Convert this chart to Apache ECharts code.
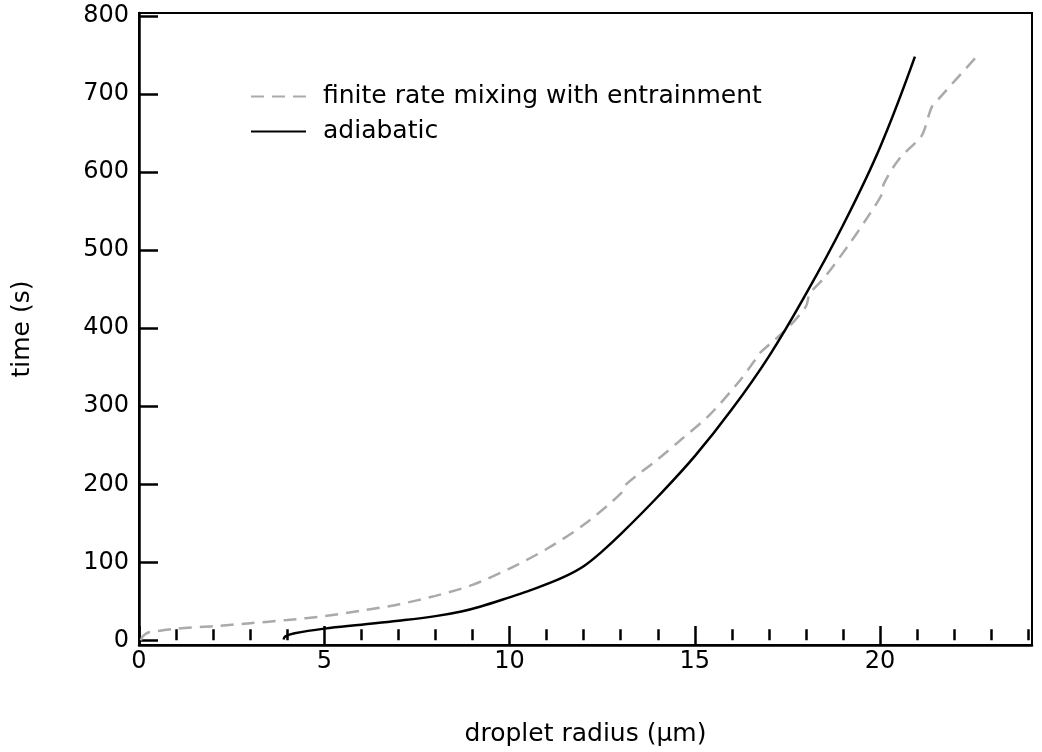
<!DOCTYPE html>
<html>
<head>
<meta charset="utf-8">
<script src="https://cdn.jsdelivr.net/npm/echarts@6/dist/echarts.min.js"></script>
<style>html,body{margin:0;padding:0;background:#fff}#c{width:1042px;height:752px}</style>
</head>
<body>
<div id="c"></div>
<script>
// finite rate mixing with entrainment (droplet radius µm, time s)
const mixR = [0.05, 0.1, 0.25, 0.5, 1, 2, 3, 4, 5, 6, 7, 8, 9, 10, 11, 12, 13, 13.1, 14, 14.6, 15.4, 16.2, 16.65, 16.75, 17.5, 18.0, 18.1, 18.5, 19.2, 19.7, 20.05, 20.1, 20.5, 21.1, 21.2, 21.4, 21.6, 22.6];
const mixT = [0, 5, 10, 12, 15, 18, 22, 26, 31, 38, 46, 57, 71, 92, 117, 148, 188, 198, 232, 256, 289, 332, 361, 368, 400, 428, 444, 465, 510, 545, 572, 585, 616, 645, 655, 684, 695, 748];
// adiabatic
const adiR = [3.9, 3.95, 4.2, 5, 6, 7, 8, 8.7, 9.2, 10, 10.5, 11, 11.5, 12, 12.5, 13, 14, 15, 16, 17, 18, 19, 20, 20.94];
const adiT = [1, 5, 9, 15, 20, 25, 31, 37, 43, 55, 63, 72, 82, 95, 114, 136, 184, 236, 296, 364, 444, 532, 632, 748];
const xMajorTicks = [0, 5, 10, 15, 20];
const xMinorTicks = [1,2,3,4,6,7,8,9,11,12,13,14,16,17,18,19,21,22,23,24];
const yTicks = [0, 100, 200, 300, 400, 500, 600, 700, 800];
const seriesNames = ['finite rate mixing with entrainment', 'adiabatic'];

const FONT = 'DejaVu Sans';
const chart = echarts.init(document.getElementById('c'), null, {renderer: 'canvas'});
const X_MIN = 0, X_MAX = 24.1, Y_MIN = -6, Y_MAX = 804;
chart.setOption({
  animation: false,
  backgroundColor: '#fff',
  grid: {left: 139, right: 10, top: 13, bottom: 103, show: true, borderColor: '#000', borderWidth: 2, backgroundColor: 'transparent'},
  legend: {
    orient: 'vertical', left: 250, top: 84, padding: 0, itemWidth: 55, itemHeight: 14, itemGap: 10,
    data: seriesNames,
    itemStyle: {opacity: 0, color: 'rgba(0,0,0,0)', borderWidth: 0},
    textStyle: {fontFamily: FONT, fontSize: 25, color: '#000', padding: [0, 0, 0, 12]}
  },
  xAxis: [{
    type: 'value', min: X_MIN, max: X_MAX, position: 'bottom',
    name: 'droplet radius (µm)', nameLocation: 'middle', nameGap: 77,
    nameTextStyle: {fontFamily: FONT, fontSize: 25, color: '#000'},
    axisLine: {show: true, onZero: false, lineStyle: {color: '#000', width: 2.5}},
    axisTick: {show: true, inside: true, length: 19, lineStyle: {color: '#000', width: 2.5}, customValues: xMajorTicks},
    axisLabel: {fontFamily: FONT, fontSize: 24, color: '#000', margin: 5, customValues: xMajorTicks},
    splitLine: {show: false}
  }, {
    type: 'value', min: X_MIN, max: X_MAX, position: 'bottom',
    axisLine: {show: false},
    axisTick: {show: true, inside: true, length: 11, lineStyle: {color: '#000', width: 2.5}, customValues: xMinorTicks},
    axisLabel: {show: false},
    splitLine: {show: false}
  }],
  yAxis: {
    type: 'value', min: Y_MIN, max: Y_MAX,
    name: 'time (s)', nameLocation: 'middle', nameGap: 104,
    nameTextStyle: {fontFamily: FONT, fontSize: 25, color: '#000'},
    axisLine: {show: true, onZero: false, lineStyle: {color: '#000', width: 2.5}},
    axisTick: {show: true, inside: true, length: 19, lineStyle: {color: '#000', width: 2.5}, customValues: yTicks},
    axisLabel: {fontFamily: FONT, fontSize: 24, color: '#000', margin: 10, customValues: yTicks},
    splitLine: {show: false}
  },
  series: [{
    name: seriesNames[0], type: 'line', xAxisIndex: 0, showSymbol: false, symbol: 'none', smooth: 0.3,
    data: mixR.map((r, i) => [r, mixT[i]]),
    lineStyle: {color: '#aaaaaa', width: 2.5, type: [13, 8]},
    itemStyle: {color: '#aaaaaa'}
  }, {
    name: seriesNames[1], type: 'line', xAxisIndex: 0, showSymbol: false, symbol: 'none', smooth: 0.4,
    data: adiR.map((r, i) => [r, adiT[i]]),
    lineStyle: {color: '#000', width: 2.5, type: 'solid'},
    itemStyle: {color: '#000'}
  }]
});
</script>
</body>
</html>
